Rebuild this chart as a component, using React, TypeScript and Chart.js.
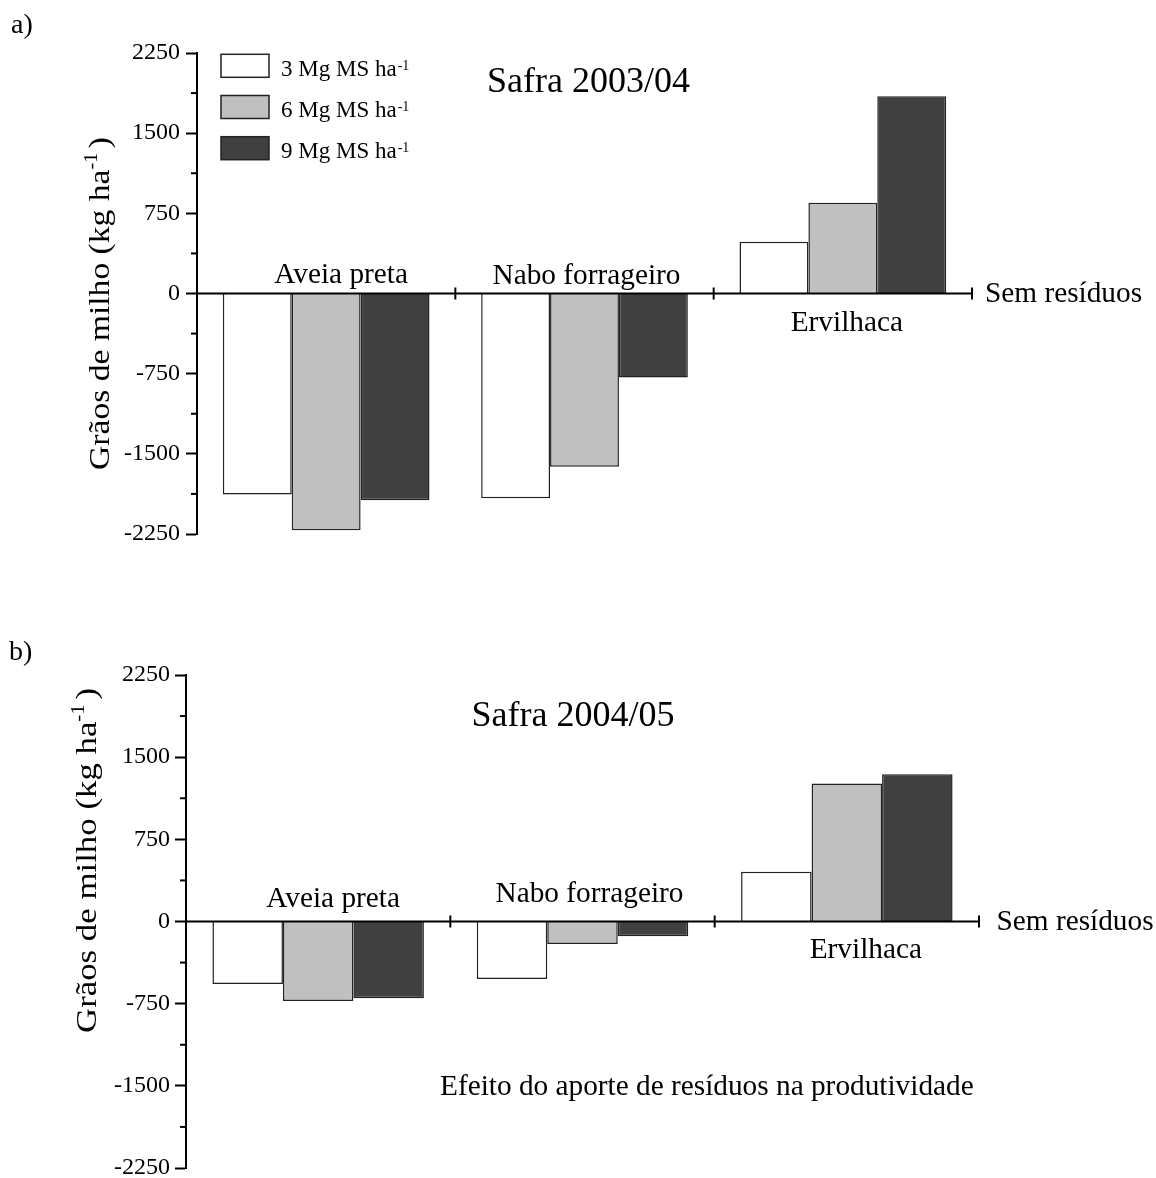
import React, { useEffect, useRef } from 'react';
import { Chart, registerables } from 'chart.js';

Chart.register(...registerables);

// ---------- data ----------
const categories = ['Aveia preta', 'Nabo forrageiro', 'Ervilhaca'];
const doseLabels = ['3 Mg MS ha', '6 Mg MS ha', '9 Mg MS ha'];
const doseSup = '-1';
const doseColors = ['#ffffff', '#c0c0c0', '#404040'];
const yMin = -2250;
const yMax = 2250;
const yMajorStep = 750;
const yMinorStep = 375;

// Safra 2003/04 (a)
const safra0304_3 = [-1880, -1915, 485];
const safra0304_6 = [-2215, -1620, 850];
const safra0304_9 = [-1935, -785, 1845];
// Safra 2004/05 (b)
const safra0405_3 = [-570, -525, 455];
const safra0405_6 = [-725, -205, 1260];
const safra0405_9 = [-700, -135, 1345];

const yTitleMain = 'Grãos de milho (kg ha';
const yTitleSup = '-1';
const yTitleEnd = ')';
const zeroLabel = 'Sem resíduos';
const noteText = 'Efeito do aporte de resíduos na produtividade';

// ---------- layout ----------
const SERIF = '"Liberation Serif", "Times New Roman", Times, serif';
const W = 1156;
const H = 589;

type PanelCfg = {
  letter: string;
  letterPos: [number, number];
  title: string;
  titlePos: [number, number];
  area: { left: number; right: number; top: number; bottom: number };
  catOffsets: [number, number][];
  semOffset: [number, number];
  yTitlePos: [number, number];
  yTitleLen: number;
  tickPad: number;
  legend: boolean;
  note?: [number, number];
};

const panelA: PanelCfg = {
  letter: 'a)',
  letterPos: [11, 33],
  title: 'Safra 2003/04',
  titlePos: [487, 92],
  area: { left: 197, right: 972, top: 53, bottom: 534 },
  catOffsets: [[15, -11], [2, -10], [4, 37.5]],
  semOffset: [13, 8.5],
  yTitlePos: [109, 303.5],
  yTitleLen: 333,
  tickPad: 6,
  legend: true,
};

const panelB: PanelCfg = {
  letter: 'b)',
  letterPos: [9, 71],
  title: 'Safra 2004/05',
  titlePos: [471.5, 137],
  area: { left: 186, right: 979, top: 86, bottom: 579 },
  catOffsets: [[15, -15], [7, -20], [19, 36.5]],
  semOffset: [17.5, 8.5],
  yTitlePos: [96, 271.5],
  yTitleLen: 345,
  tickPad: 5,
  legend: false,
  note: [440, 506],
};

const LABEL_FONT = `29.3px ${SERIF}`;

function makeDecor(cfg: PanelCfg) {
  return {
    id: 'decor',
    afterDraw(chart: any) {
      const ctx: CanvasRenderingContext2D = chart.ctx;
      const xs = chart.scales.x;
      const ys = chart.scales.y;
      const area = chart.chartArea;
      const y0 = ys.getPixelForValue(0);
      ctx.save();
      ctx.strokeStyle = '#000';
      ctx.fillStyle = '#000';
      ctx.lineWidth = 2;

      // zero line (category axis)
      ctx.beginPath();
      ctx.moveTo(area.left, y0);
      ctx.lineTo(area.right, y0);
      ctx.stroke();

      // category boundary ticks
      const half = (xs.getPixelForValue(1) - xs.getPixelForValue(0)) / 2;
      for (let i = 0; i < categories.length; i++) {
        const bx = xs.getPixelForValue(i) + half;
        ctx.beginPath();
        ctx.moveTo(bx, y0 - 6);
        ctx.lineTo(bx, y0 + 6);
        ctx.stroke();
      }

      // minor y ticks
      for (let v = yMin + yMinorStep; v < yMax; v += yMajorStep) {
        const py = ys.getPixelForValue(v);
        ctx.beginPath();
        ctx.moveTo(area.left - 6, py);
        ctx.lineTo(area.left, py);
        ctx.stroke();
      }

      // category labels
      ctx.font = LABEL_FONT;
      ctx.textAlign = 'center';
      ctx.textBaseline = 'alphabetic';
      categories.forEach((c, i) => {
        const [dx, dy] = cfg.catOffsets[i];
        ctx.fillText(c, xs.getPixelForValue(i) + dx, y0 + dy);
      });

      // "Sem resíduos"
      ctx.textAlign = 'left';
      ctx.fillText(zeroLabel, area.right + cfg.semOffset[0], y0 + cfg.semOffset[1]);

      // note
      if (cfg.note) {
        ctx.fillText(noteText, cfg.note[0], cfg.note[1]);
      }

      // panel letter
      ctx.font = `28px ${SERIF}`;
      ctx.fillText(cfg.letter, cfg.letterPos[0], cfg.letterPos[1]);

      // title
      ctx.font = `36px ${SERIF}`;
      ctx.fillText(cfg.title, cfg.titlePos[0], cfg.titlePos[1]);

      // y title (rotated, with superscript, stretched along its length)
      ctx.save();
      ctx.translate(cfg.yTitlePos[0], cfg.yTitlePos[1]);
      ctx.rotate(-Math.PI / 2);
      const mainSize = 30;
      const supSize = 18;
      ctx.font = `${mainSize}px ${SERIF}`;
      const wMain = ctx.measureText(yTitleMain).width;
      const wEnd = ctx.measureText(yTitleEnd).width;
      ctx.font = `${supSize}px ${SERIF}`;
      const wSup = ctx.measureText(yTitleSup).width;
      const gap = 4;
      const total = wMain + wSup + gap + wEnd;
      const stretch = cfg.yTitleLen / total;
      ctx.scale(stretch, 1);
      let sx = -total / 2;
      ctx.textAlign = 'left';
      ctx.font = `${mainSize}px ${SERIF}`;
      ctx.fillText(yTitleMain, sx, 0);
      sx += wMain;
      ctx.font = `${supSize}px ${SERIF}`;
      ctx.fillText(yTitleSup, sx, -12);
      sx += wSup + gap;
      ctx.font = `${mainSize}px ${SERIF}`;
      ctx.fillText(yTitleEnd, sx, 0);
      ctx.restore();

      // legend
      if (cfg.legend) {
        const bx = 221;
        const by0 = 54.3;
        const step = 41.2;
        chart.data.datasets.forEach((ds: any, i: number) => {
          const by = by0 + i * step;
          ctx.fillStyle = ds.backgroundColor;
          ctx.fillRect(bx, by, 48, 23);
          ctx.lineWidth = 1.5;
          ctx.strokeStyle = '#222';
          ctx.strokeRect(bx, by, 48, 23);
          ctx.fillStyle = '#000';
          ctx.font = `23px ${SERIF}`;
          ctx.textAlign = 'left';
          ctx.fillText(ds.label, 281, by + 21.7);
          const tw = ctx.measureText(ds.label).width;
          ctx.font = `14px ${SERIF}`;
          ctx.fillText(doseSup, 281 + tw + 1, by + 15.5);
        });
      }
      ctx.restore();
    },
  };
}

function buildChart(canvas: HTMLCanvasElement, cfg: PanelCfg, series: number[][]) {
  const datasets = series.map((vals, i) => ({
    label: doseLabels[i],
    data: vals,
    backgroundColor: doseColors[i],
    borderColor: '#222',
    borderWidth: 1.5,
    categoryPercentage: 0.8,
    barPercentage: 1.0,
  }));
  return new Chart(canvas, {
    type: 'bar',
    data: { labels: categories, datasets },
    options: {
      animation: false,
      responsive: false,
      devicePixelRatio: 1,
      layout: {
        padding: {
          left: 0,
          right: W - cfg.area.right,
          top: cfg.area.top,
          bottom: H - cfg.area.bottom,
        },
      },
      plugins: {
        legend: { display: false },
        tooltip: { enabled: false },
        title: { display: false },
      },
      scales: {
        x: {
          type: 'category',
          display: false,
          offset: true,
        },
        y: {
          type: 'linear',
          min: yMin,
          max: yMax,
          afterFit: (scale: any) => {
            scale.width = cfg.area.left;
            scale.paddingTop = 0;
            scale.paddingBottom = 0;
          },
          border: { display: true, color: '#000', width: 2 },
          grid: {
            drawOnChartArea: false,
            drawTicks: true,
            tickLength: 11,
            tickWidth: 2,
            tickColor: (c: any) =>
              c.tick && c.tick.value % yMajorStep === 0 ? '#000' : 'rgba(0,0,0,0)',
          },
          ticks: {
            stepSize: yMinorStep,
            autoSkip: false,
            padding: cfg.tickPad,
            color: '#000',
            font: { family: SERIF, size: 24 },
            callback: (v: any) => (Number(v) % yMajorStep === 0 ? String(v) : ''),
          },
        },
      },
    },
    plugins: [makeDecor(cfg)],
  } as any);
}

export default function App() {
  const refA = useRef<HTMLCanvasElement>(null);
  const refB = useRef<HTMLCanvasElement>(null);

  useEffect(() => {
    const a = buildChart(refA.current!, panelA, [safra0304_3, safra0304_6, safra0304_9]);
    const b = buildChart(refB.current!, panelB, [safra0405_3, safra0405_6, safra0405_9]);
    return () => {
      a.destroy();
      b.destroy();
    };
  }, []);

  return (
    <div style={{ position: 'absolute', left: 0, top: 0, width: W, height: 2 * H, background: '#fff' }}>
      <canvas
        ref={refA}
        width={W}
        height={H}
        style={{ position: 'absolute', left: 0, top: 0, width: W, height: H }}
      />
      <canvas
        ref={refB}
        width={W}
        height={H}
        style={{ position: 'absolute', left: 0, top: H, width: W, height: H }}
      />
    </div>
  );
}
